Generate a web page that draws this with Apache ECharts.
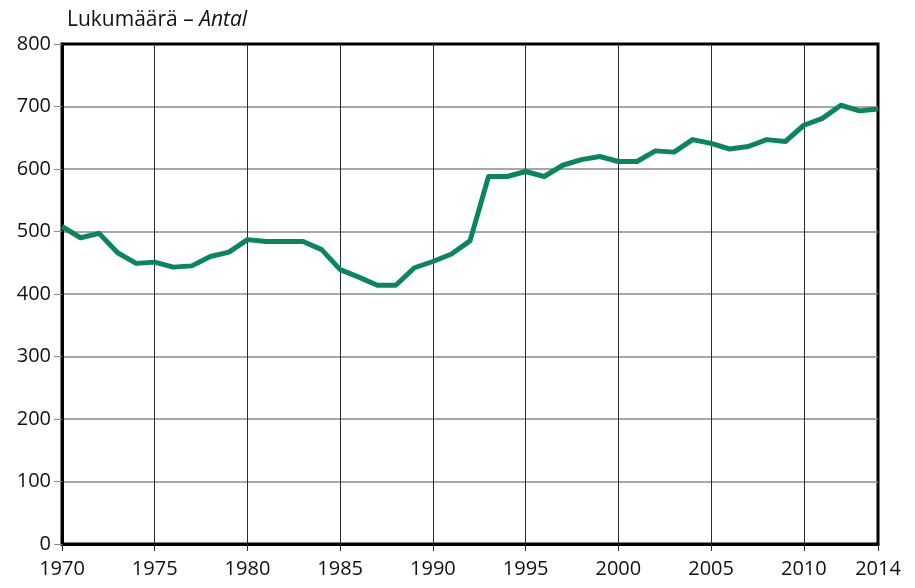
<!DOCTYPE html>
<html>
<head>
<meta charset="utf-8">
<script src="https://cdn.jsdelivr.net/npm/echarts@6/dist/echarts.min.js"></script>
<style>
	html, body { margin: 0; padding: 0; background: #fff; }
	#chart { width: 915px; height: 588px; }
</style>
</head>
<body>
<div id="chart"></div>
<script>
var years = [];
for (var y = 1970; y <= 2014; y++) years.push(String(y));

var counts = [
	508, 490, 497, 466, 449, 451, 443, 445, 460, 467,
	487, 484, 484, 484, 471, 439, 427, 414, 414, 442,
	452, 464, 485, 588, 588, 596, 588, 606, 615, 620,
	612, 612, 629, 627, 647, 641, 632, 636, 647, 644,
	670, 681, 702, 693, 696
];

var yTicks = { min: 0, max: 800, interval: 100 };

var chartColors = {
	line: '#0a855e',
	axes: '#000000',
	hGrid: '#8a8a8a',
	vGrid: '#2a2a2a',
	text: '#111111'
};

var fontFamily = '"Open Sans", "Noto Sans", sans-serif';

function isLabelled(i) {
	return i % 5 === 0 || i === years.length - 1;
}

// last horizontal line (800) sits on the top border, keep it black
var hGridColors = [];
for (var k = yTicks.min; k <= yTicks.max; k += yTicks.interval) {
	hGridColors.push(k === yTicks.max ? chartColors.axes : chartColors.hGrid);
}

var echart = echarts.init(document.getElementById('chart'));

echart.setOption({
	animation: false,
	title: {
		text: '{a|Lukumäärä – }{b|Antal}',
		left: 62,
		top: 5,
		textStyle: {
			rich: {
				a: { fontSize: 21, fontWeight: 'normal', fontFamily: fontFamily, color: chartColors.text },
				b: { fontSize: 21, fontWeight: 'normal', fontFamily: fontFamily, fontStyle: 'italic', color: chartColors.text }
			}
		}
	},
	grid: {
		left: 62,
		right: 37,
		top: 44,
		bottom: 44,
		show: true,
		borderColor: chartColors.axes,
		borderWidth: 3,
		backgroundColor: 'transparent'
	},
	xAxis: {
		type: 'category',
		boundaryGap: false,
		data: years,
		axisLine: { show: true, lineStyle: { color: chartColors.axes, width: 3 } },
		axisTick: {
			show: true,
			interval: function (i) { return isLabelled(i); },
			length: 7,
			lineStyle: { color: chartColors.vGrid, width: 1 }
		},
		axisLabel: {
			interval: function (i) { return isLabelled(i); },
			margin: 15,
			fontSize: 20,
			fontFamily: fontFamily,
			color: chartColors.text
		},
		splitLine: {
			show: true,
			interval: function (i) { return i % 5 === 0; },
			lineStyle: { color: chartColors.vGrid, width: 1 }
		}
	},
	yAxis: {
		type: 'value',
		min: yTicks.min,
		max: yTicks.max,
		interval: yTicks.interval,
		axisLine: { show: true, lineStyle: { color: chartColors.axes, width: 3 } },
		axisTick: { show: true, length: 8, lineStyle: { color: chartColors.hGrid, width: 1 } },
		axisLabel: {
			margin: 11,
			fontSize: 20,
			fontFamily: fontFamily,
			color: chartColors.text
		},
		splitLine: { show: true, lineStyle: { color: hGridColors, width: 1.5 } }
	},
	series: [{
		type: 'line',
		data: counts,
		showSymbol: false,
		symbol: 'none',
		lineStyle: { color: chartColors.line, width: 5, join: 'round' }
	}]
});
</script>
</body>
</html>
